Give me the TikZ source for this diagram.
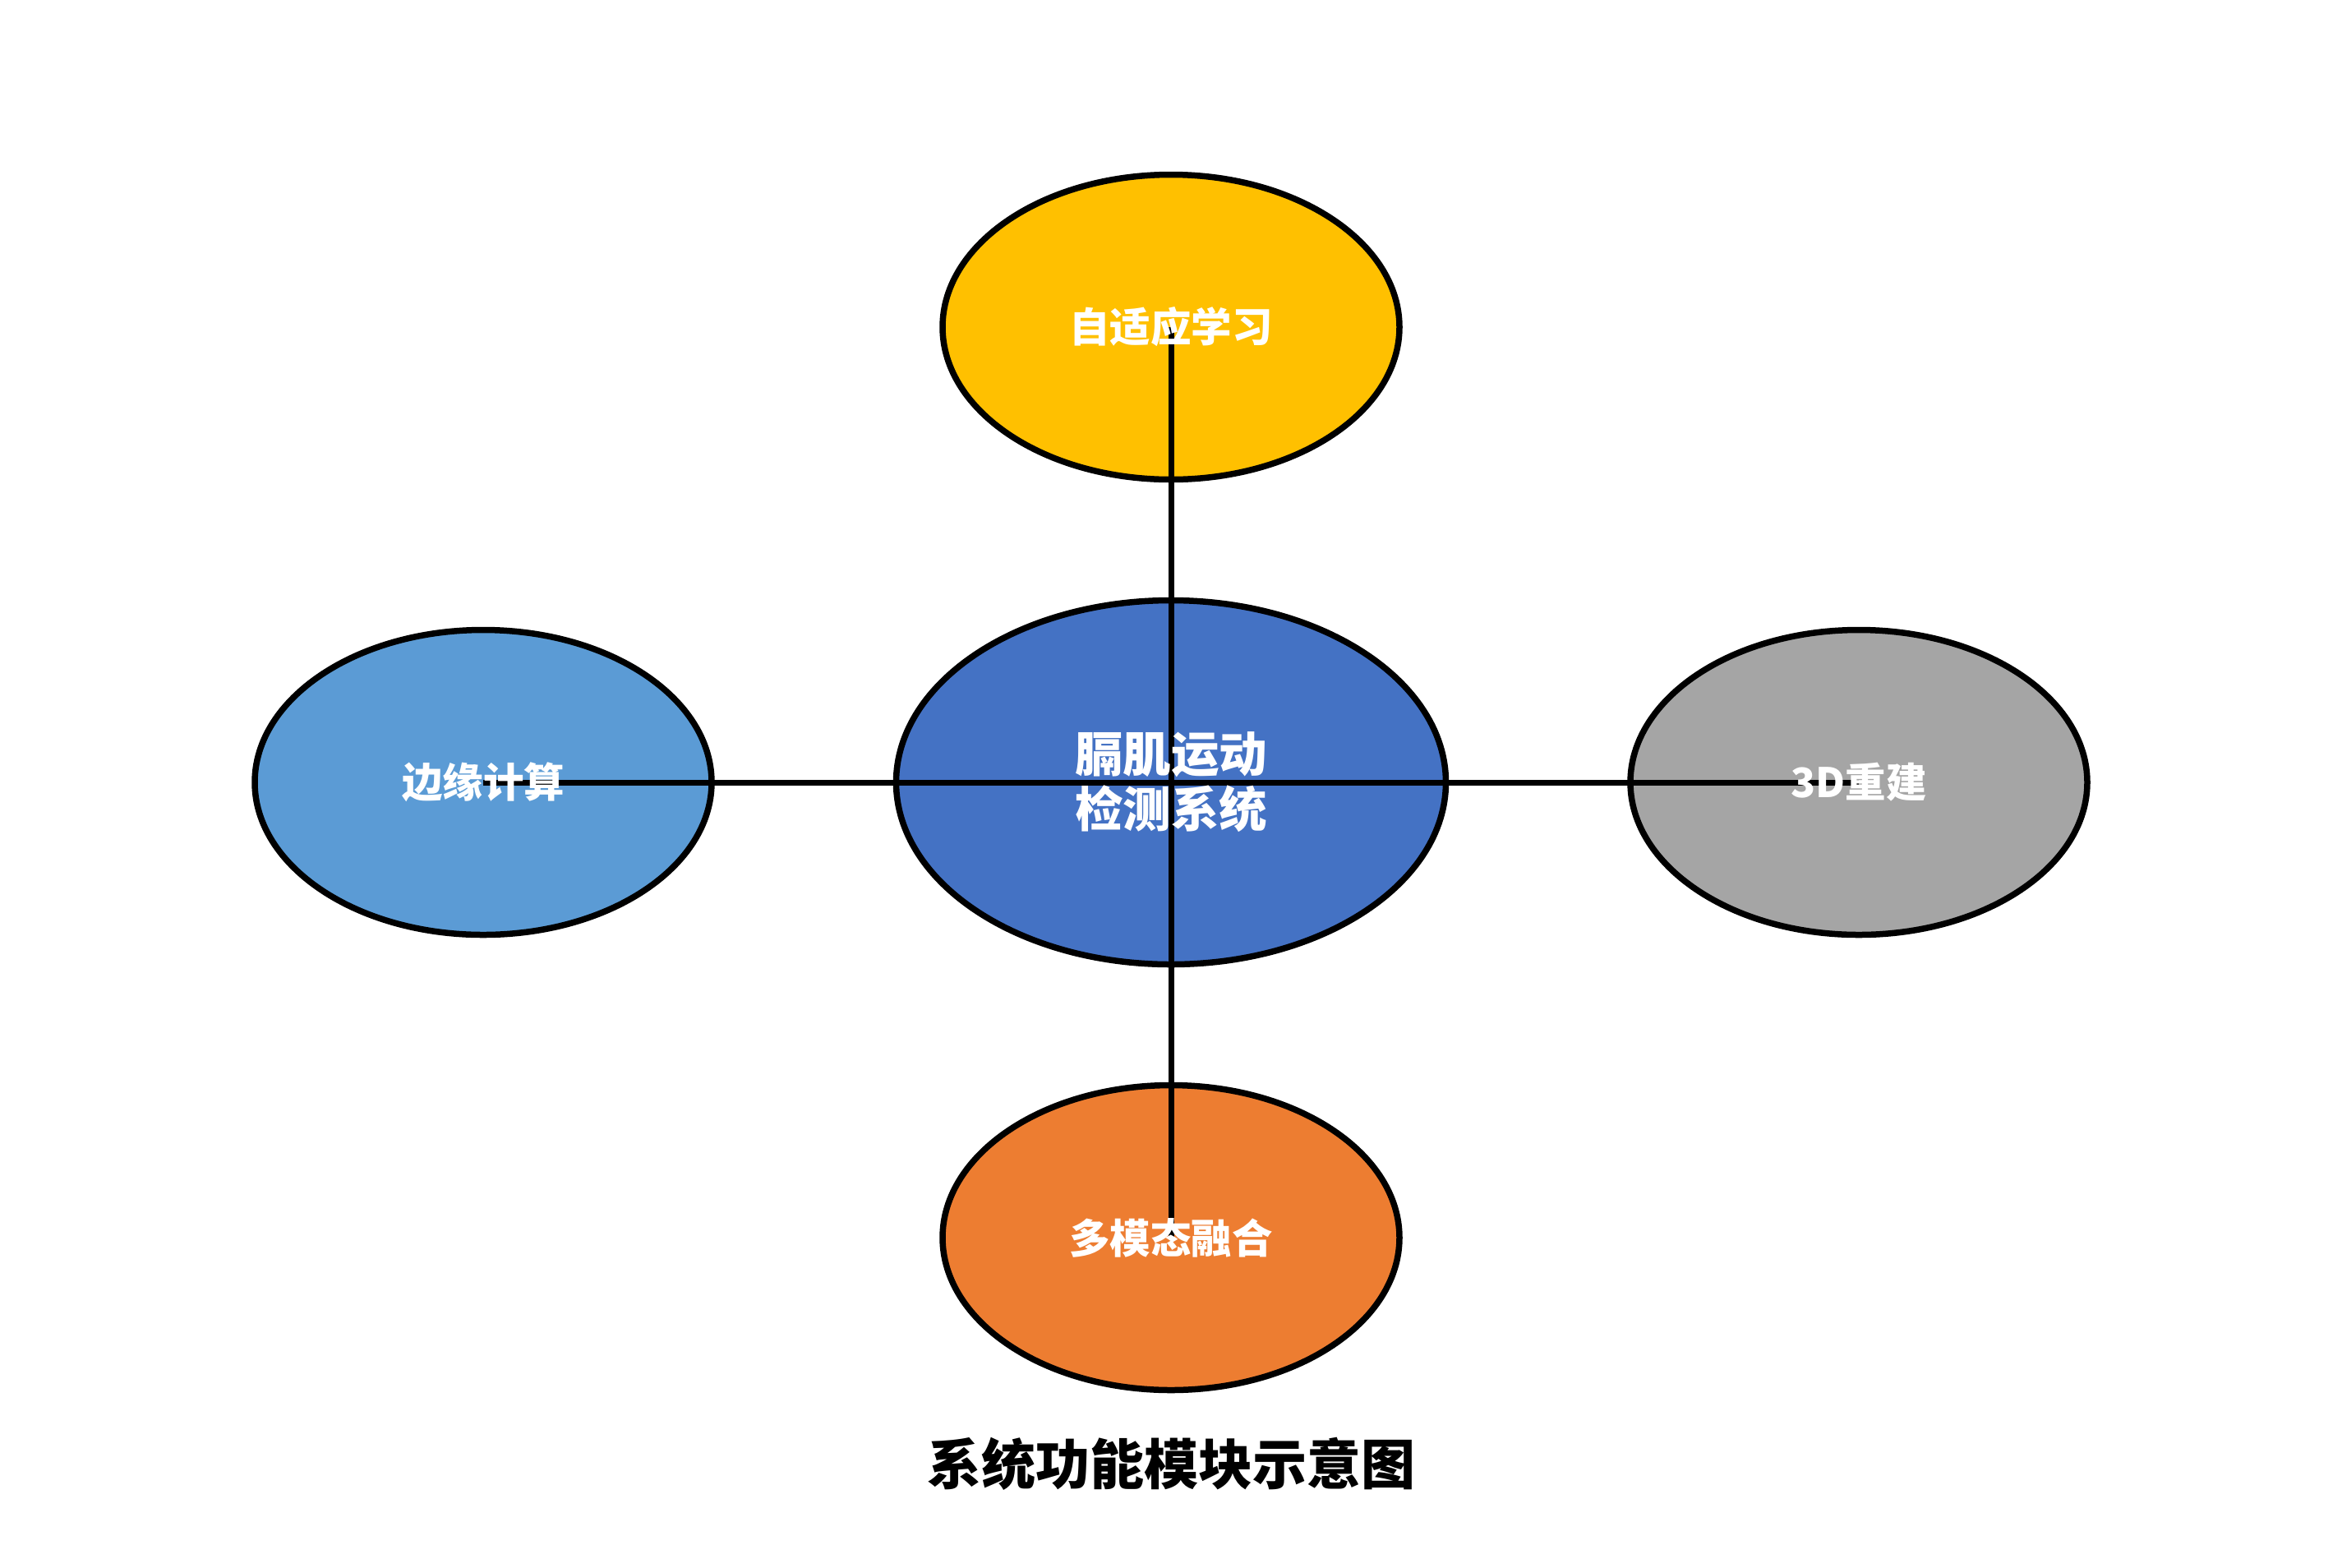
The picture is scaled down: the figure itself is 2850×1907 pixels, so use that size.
\documentclass[tikz,border=0pt]{standalone}
\usepackage{fontspec}
\newfontfamily\cjk{Noto Sans CJK SC}
\usetikzlibrary{shapes.geometric}
\definecolor{cyellow}{HTML}{FFC000}
\definecolor{cblue}{HTML}{4472C4}
\definecolor{clblue}{HTML}{5B9BD5}
\definecolor{cgray}{HTML}{A5A5A5}
\definecolor{corange}{HTML}{ED7D31}
\tikzset{
  blob/.style={ellipse, draw=black, line width=7.5pt, inner sep=0pt,
    minimum width=556pt, minimum height=371pt},
  bigblob/.style={blob, minimum width=669pt, minimum height=443pt},
  label/.style={text=white, font=\cjk\bfseries\fontsize{49.5}{58}\selectfont, align=center, inner sep=0pt},
  biglabel/.style={label, font=\cjk\bfseries\fontsize{58.5}{67}\selectfont},
  link/.style={line width=7pt, draw=black}
}
\begin{document}
\begin{tikzpicture}[x=1pt,y=-1pt]
\useasboundingbox (0,0) rectangle (2850,1907);
\fill[white] (0,0) rectangle (2850,1907);
% ellipses
\node[blob, fill=cyellow] (t) at (1425,398) {};
\node[bigblob, fill=cblue] (c) at (1425,952) {};
\node[blob, fill=clblue] (l) at (588,952) {};
\node[blob, fill=cgray] (r) at (2262,952) {};
\node[blob, fill=corange] (b) at (1425,1506) {};
% links
\draw[link] (c.center) -- (t.center);
\draw[link] (c.center) -- (b.center);
\draw[link] (c.center) -- (l.center);
\draw[link] (c.center) -- (r.center);
% labels
\node[label] (tl) at (t.center) {自适应学习};
\node[biglabel] (cl) at (c.center) {膈肌运动\\检测系统};
\node[label] (ll) at (l.center) {边缘计算};
\node[label] (rl) at (r.center) {3D重建};
\node[label] (bl) at (b.center) {多模态融合};
\node[font=\cjk\bfseries\fontsize{66}{72}\selectfont, text=black, inner sep=0pt] (title) at (1425,1781) {系统功能模块示意图};
\end{tikzpicture}
\end{document}
